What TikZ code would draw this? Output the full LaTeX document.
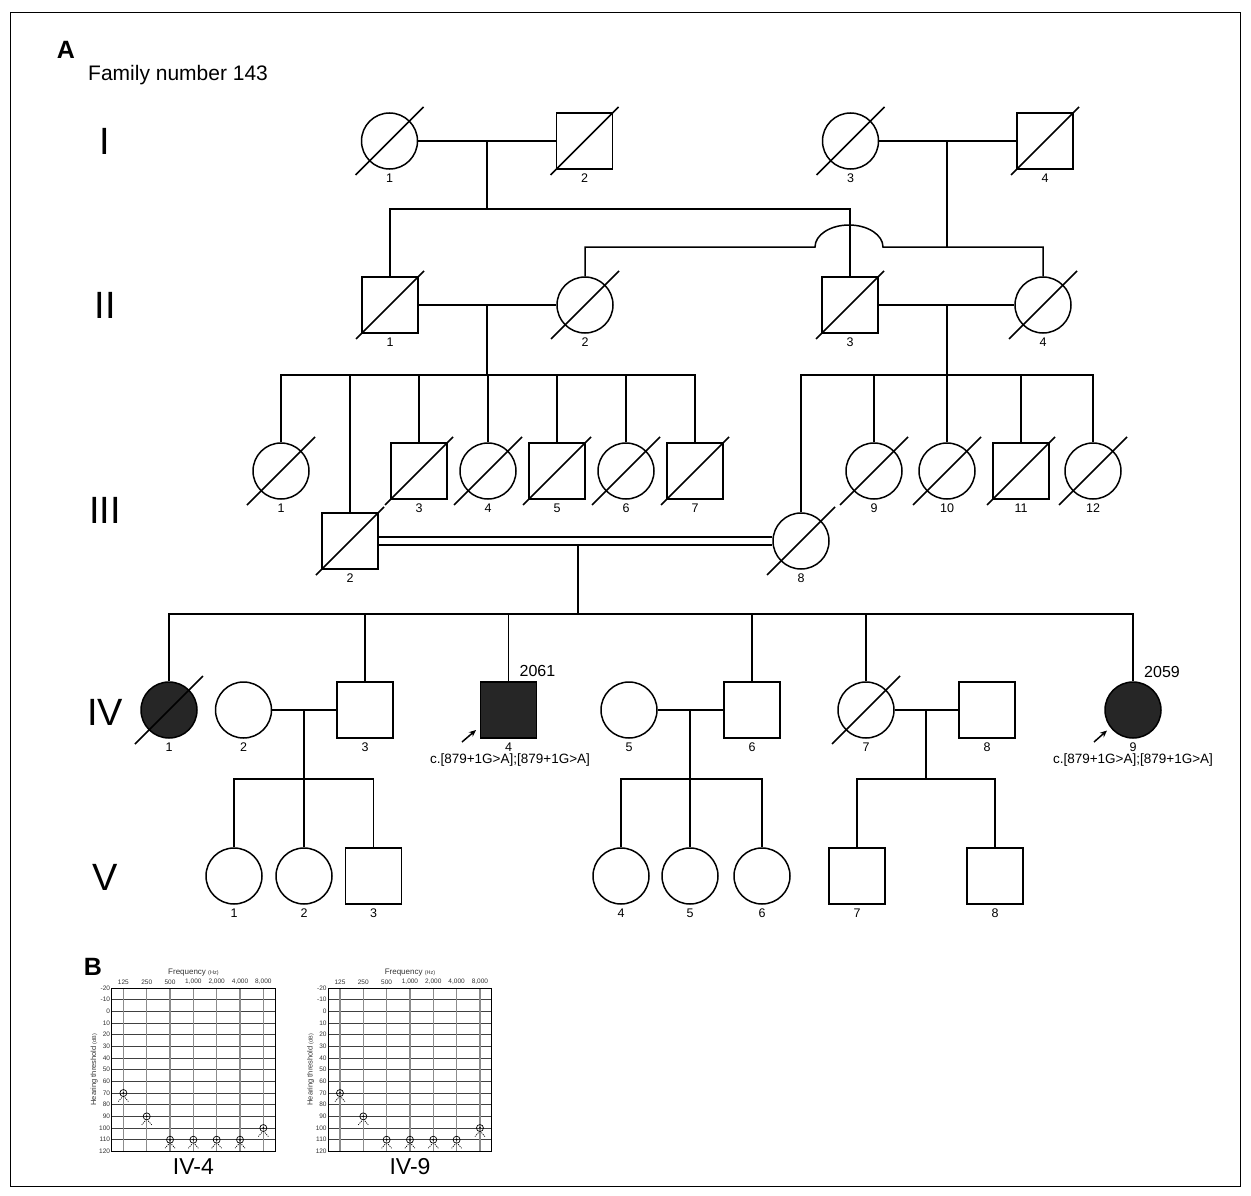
\documentclass[tikz,border=0pt]{standalone}
\usepackage{fontspec}
\setmainfont{Liberation Sans}
\usetikzlibrary{arrows.meta}

\tikzset{
  ped/.style={line width=1.5pt},
  fem/.style={circle, draw, ped, minimum size=56pt, inner sep=0pt},
  mal/.style={rectangle, draw, ped, minimum size=55.6pt, inner sep=0pt},
  aff/.style={fill=black!85},
  dec/.style={append after command={([shift={(-34pt,-34pt)}]\tikzlastnode.center) edge[ped] ([shift={(34pt,34pt)}]\tikzlastnode.center)}},
  num/.style={font=\fontsize{12.5}{14}\selectfont, inner sep=0pt},
  gen/.style={font=\fontsize{38}{40}\selectfont, inner sep=0pt},
  pointer/.style={ped, -{Stealth[length=7pt,width=6pt]}},
  agrid/.style={line width=0.6pt, black!75},
  afreq/.style={line width=1.2pt, black!45},
  atick/.style={font=\fontsize{6.5}{7}\selectfont, inner sep=0pt, black!80},
  asym/.style={circle, draw, line width=0.7pt, minimum size=7pt, inner sep=0pt,
    path picture={\fill (path picture bounding box.center) circle (1.1pt);}},
  aleg/.style={line width=0.7pt, dash pattern=on 1.2pt off 1pt}
}

\begin{document}
\begin{tikzpicture}[x=1pt,y=-1pt]
\useasboundingbox (0,0) rectangle (1251,1196);
\draw [line width=0.8pt] (10,12) rectangle (1240,1186);

\node [font=\bfseries\fontsize{25}{28}\selectfont, inner sep=0pt] (A) at (66,50) {A};
\node [anchor=west, font=\fontsize{21}{24}\selectfont, inner sep=0pt] (fam) at (88,75.5) {Family number 143};

% generations
\node [gen] (gI) at (105,141) {I};
\node [gen] (gII) at (105,305) {II};
\node [gen] (gIII) at (105,510) {III};
\node [gen] (gIV) at (105,712) {IV};
\node [gen] (gV) at (105,877) {V};

% generation I
\node [fem,dec] (I1) at (389.5,141) {};
\node [mal,dec] (I2) at (584.5,141) {};
\node [fem,dec] (I3) at (850.5,141) {};
\node [mal,dec] (I4) at (1045,141) {};
% generation II
\node [mal,dec] (II1) at (390,305) {};
\node [fem,dec] (II2) at (585,305) {};
\node [mal,dec] (II3) at (850,305) {};
\node [fem,dec] (II4) at (1043,305) {};
% generation III
\node [fem,dec] (III1) at (281,471) {};
\node [mal,dec] (III2) at (350,541) {};
\node [mal,dec] (III3) at (419,471) {};
\node [fem,dec] (III4) at (488,471) {};
\node [mal,dec] (III5) at (557,471) {};
\node [fem,dec] (III6) at (626,471) {};
\node [mal,dec] (III7) at (695,471) {};
\node [fem,dec] (III8) at (801,541) {};
\node [fem,dec] (III9) at (874,471) {};
\node [fem,dec] (III10) at (947,471) {};
\node [mal,dec] (III11) at (1021,471) {};
\node [fem,dec] (III12) at (1093,471) {};
% generation IV
\node [fem,aff,dec] (IV1) at (169,710) {};
\node [fem] (IV2) at (243.5,710) {};
\node [mal] (IV3) at (365,710) {};
\node [mal,aff] (IV4) at (508.5,710) {};
\node [fem] (IV5) at (629,710) {};
\node [mal] (IV6) at (752,710) {};
\node [fem,dec] (IV7) at (866,710) {};
\node [mal] (IV8) at (987,710) {};
\node [fem,aff] (IV9) at (1133,710) {};
% generation V
\node [fem] (V1) at (234,876) {};
\node [fem] (V2) at (304,876) {};
\node [mal] (V3) at (373.5,876) {};
\node [fem] (V4) at (621,876) {};
\node [fem] (V5) at (690,876) {};
\node [fem] (V6) at (762,876) {};
\node [mal] (V7) at (857,876) {};
\node [mal] (V8) at (995,876) {};

\foreach \n/\t in {I1/1,I2/2,I3/3,I4/4,II1/1,II2/2,II3/3,II4/4,
  III1/1,III2/2,III3/3,III4/4,III5/5,III6/6,III7/7,III8/8,III9/9,III10/10,III11/11,III12/12,
  IV1/1,IV2/2,IV3/3,IV4/4,IV5/5,IV6/6,IV7/7,IV8/8,IV9/9,
  V1/1,V2/2,V3/3,V4/4,V5/5,V6/6,V7/7,V8/8}
  \node [num] (\n-no) at ([yshift=-37.5pt]\n.center) {\t};

% I -> II
\coordinate (m1) at (487,141);
\coordinate (s1) at (487,209);
\draw [ped] (I1.east) -- (I2.west);
\draw [ped] (m1) -- (s1);
\draw [ped] (II1.north) |- (s1) -| (II3.north);
\coordinate (m2) at (947,141);
\coordinate (s2) at (947,247);
\coordinate (hop) at (815,247);
\draw [ped] (I3.east) -- (I4.west);
\draw [ped] (m2) -- (s2);
\draw [ped] (II2.north) |- (hop) arc [start angle=180, end angle=360, x radius=34, y radius=22] -| (II4.north);

% II -> III
\coordinate (m3) at (487,305);
\coordinate (s3) at (487,375);
\draw [ped] (II1.east) -- (II2.west);
\draw [ped] (m3) -- (s3);
\draw [ped] (III1.north) |- (s3) -| (III7.north);
\foreach \c in {III2,III3,III4,III5,III6}
  \draw [ped] (\c.north) -- (\c.north |- s3);
\coordinate (m4) at (947,305);
\coordinate (s4) at (947,375);
\draw [ped] (II3.east) -- (II4.west);
\draw [ped] (m4) -- (s4);
\draw [ped] (III8.north) |- (s4) -| (III12.north);
\foreach \c in {III9,III10,III11}
  \draw [ped] (\c.north) -- (\c.north |- s4);

% III -> IV
\draw [ped] ([yshift=3.8pt]III2.east) -- ([yshift=3.8pt]III8.west);
\draw [ped] ([yshift=-3.8pt]III2.east) -- ([yshift=-3.8pt]III8.west);
\coordinate (m5) at (578,544.8);
\coordinate (s5) at (578,614);
\draw [ped] (m5) -- (s5);
\draw [ped] (IV1.north) |- (s5) -| (IV9.north);
\foreach \c in {IV3,IV4,IV6,IV7}
  \draw [ped] (\c.north) -- (\c.north |- s5);

% IV -> V
\coordinate (m6) at (304,710);
\coordinate (s6) at (304,779);
\draw [ped] (IV2.east) -- (IV3.west);
\draw [ped] (m6) -- (s6);
\draw [ped] (V1.north) |- (s6) -| (V3.north);
\draw [ped] (V2.north) -- (V2.north |- s6);
\coordinate (m7) at (690,710);
\coordinate (s7) at (690,779);
\draw [ped] (IV5.east) -- (IV6.west);
\draw [ped] (m7) -- (s7);
\draw [ped] (V4.north) |- (s7) -| (V6.north);
\draw [ped] (V5.north) -- (V5.north |- s7);
\coordinate (m8) at (926,710);
\coordinate (s8) at (926,779);
\draw [ped] (IV7.east) -- (IV8.west);
\draw [ped] (m8) -- (s8);
\draw [ped] (V7.north) |- (s8) -| (V8.north);

% probands
\node [font=\fontsize{16}{18}\selectfont, inner sep=0pt] (id4) at (537.5,671) {2061};
\node [font=\fontsize{16}{18}\selectfont, inner sep=0pt] (id9) at (1162,672) {2059};
\node [font=\fontsize{13.5}{15}\selectfont, inner sep=0pt] (mut4) at (510,760) {c.[879+1G>A];[879+1G>A]};
\node [font=\fontsize{13.5}{15}\selectfont, inner sep=0pt] (mut9) at (1133,760) {c.[879+1G>A];[879+1G>A]};
\coordinate (p4) at (462,742);
\coordinate (q4) at (476,730);
\draw [pointer] (p4) -- (q4);
\coordinate (p9) at (1094,742);
\coordinate (q9) at (1107,730.5);
\draw [pointer] (p9) -- (q9);

% audiograms
\node [font=\bfseries\fontsize{25}{28}\selectfont, inner sep=0pt] (B) at (93,967) {B};
\foreach \k/\ax/\who in {1/111.7/IV-4, 2/328.3/IV-9} {
  \begin{scope}[shift={(\ax,988)}]
    \foreach \r in {1,...,13}
      \draw [agrid] (0,\r*11.67) -- (163.4,\r*11.67);
    \foreach \j in {0,...,6}
      \draw [afreq] (11.67+\j*23.33,0) -- (11.67+\j*23.33,163.4);
    \draw [line width=0.9pt] (0,0) rectangle (163.4,163.4);
    \foreach \d [count=\r from 0] in {-20,-10,0,10,20,30,40,50,60,70,80,90,100,110,120}
      \node [atick, anchor=east] (y\k-\r) at (-1.5,\r*11.67) {\d};
    \foreach \f [count=\j from 0] in {125,250,500,{1,000},{2,000},{4,000},{8,000}}
      \node [atick] (f\k-\j) at (11.67+\j*23.33,-6) {\f};
    \node [atick, font=\fontsize{8}{9}\selectfont] (ft\k) at (81.7,-15.5) {Frequency {\fontsize{5.5}{6}\selectfont(Hz)}};
    \node [atick, rotate=90, font=\fontsize{7.5}{8}\selectfont] (yt\k) at (-17.5,81.7) {Hearing threshold {\fontsize{5.5}{6}\selectfont(dB)}};
    \foreach \j/\d in {0/70,1/90,2/110,3/110,4/110,5/110,6/100} {
      \node [asym] (s\k-\j) at (11.67+\j*23.33,{(\d+20)*1.167}) {};
      \draw [aleg] ([shift={(-1.5pt,-4.5pt)}]s\k-\j.center) -- ++(-3.5pt,-4pt);
      \draw [aleg] ([shift={(1.5pt,-4.5pt)}]s\k-\j.center) -- ++(3.5pt,-4pt);
    }
    \node [font=\fontsize{23}{25}\selectfont, inner sep=0pt] (who\k) at (81.7,178.5) {\who};
  \end{scope}
}
\end{tikzpicture}
\end{document}
